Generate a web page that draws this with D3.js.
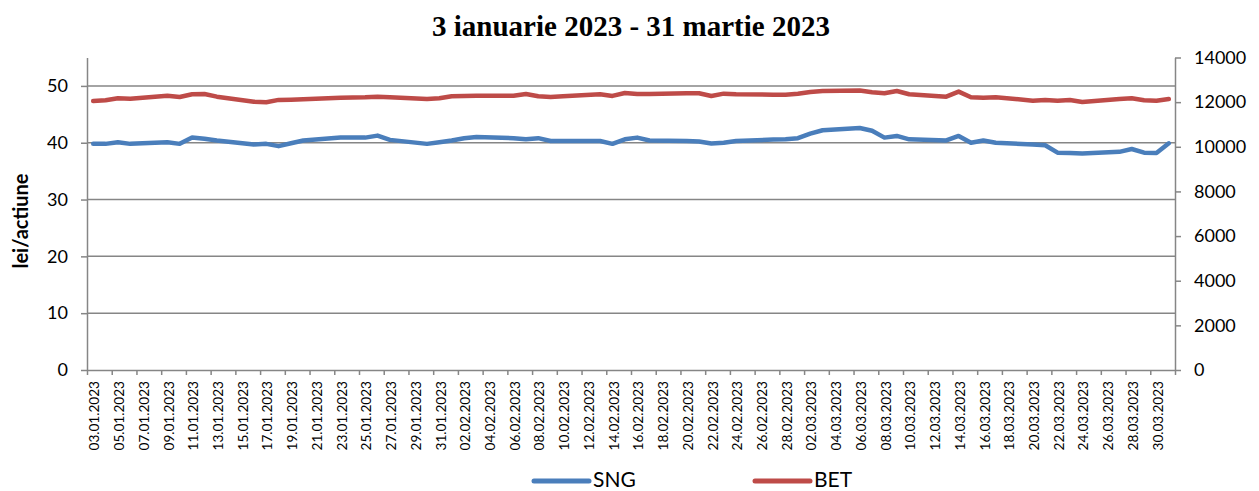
<!DOCTYPE html>
<html>
<head>
<meta charset="utf-8">
<script src="https://cdn.jsdelivr.net/npm/d3@7"></script>
<style>
  body { margin: 0; background: #fff; }
  .axis text { font-family: Lato, "Liberation Sans", sans-serif; fill: #000; }
  .axis path, .axis line { stroke: #868686; stroke-width: 1.5; }
</style>
</head>
<body>
<div id="chart"></div>
<script>
// trading days (BVB), Jan - Mar 2023
var dates = [
  "03.01.2023","04.01.2023","05.01.2023","06.01.2023","09.01.2023","10.01.2023","11.01.2023","12.01.2023","13.01.2023",
  "16.01.2023","17.01.2023","18.01.2023","19.01.2023","20.01.2023","23.01.2023","25.01.2023","26.01.2023","27.01.2023",
  "30.01.2023","31.01.2023","01.02.2023","02.02.2023","03.02.2023","06.02.2023","07.02.2023","08.02.2023","09.02.2023",
  "10.02.2023","13.02.2023","14.02.2023","15.02.2023","16.02.2023","17.02.2023","20.02.2023","21.02.2023","22.02.2023",
  "23.02.2023","24.02.2023","27.02.2023","28.02.2023","01.03.2023","02.03.2023","03.03.2023","06.03.2023","07.03.2023",
  "08.03.2023","09.03.2023","10.03.2023","13.03.2023","14.03.2023","15.03.2023","16.03.2023","17.03.2023","20.03.2023",
  "21.03.2023","22.03.2023","23.03.2023","24.03.2023","27.03.2023","28.03.2023","29.03.2023","30.03.2023","31.03.2023"
];
// SNG share price, lei/actiune (left axis)
var sng = [
  39.8, 39.8, 40.1, 39.8, 40.1, 39.8, 40.9, 40.7, 40.4,
  39.7, 39.8, 39.4, 39.9, 40.4, 40.9, 40.9, 41.25, 40.5,
  39.8, 40.1, 40.4, 40.8, 41.0, 40.8, 40.6, 40.8, 40.3,
  40.3, 40.3, 39.8, 40.6, 40.9, 40.4, 40.3, 40.2, 39.85,
  40.0, 40.3, 40.55, 40.6, 40.8, 41.6, 42.2, 42.6, 42.1,
  40.9, 41.2, 40.6, 40.4, 41.2, 40.0, 40.4, 40.0, 39.7,
  39.55, 38.25, 38.2, 38.1, 38.4, 38.9, 38.25, 38.2, 39.9
];
// BET index (right axis)
var bet = [
  12050, 12085, 12175, 12157, 12290, 12233, 12354, 12367, 12246,
  12022, 11995, 12100, 12110, 12130, 12200, 12220, 12246, 12220,
  12143, 12175, 12264, 12278, 12290, 12290, 12367, 12264, 12233,
  12264, 12354, 12278, 12412, 12367, 12367, 12398, 12398, 12278,
  12380, 12354, 12336, 12336, 12380, 12457, 12500, 12518, 12443,
  12398, 12500, 12354, 12246, 12472, 12220, 12200, 12220, 12067,
  12098, 12067, 12098, 12009, 12143, 12175, 12085, 12067, 12143
];
var leftTicks = [0, 10, 20, 30, 40, 50];
var rightTicks = [0, 2000, 4000, 6000, 8000, 10000, 12000, 14000];
var seriesNames = ["SNG", "BET"];
var seriesColors = ["#4A7EBB", "#BE4B48"];

var margin = { top: 57.5, right: 84, bottom: 121, left: 87 },
  width = 1259 - margin.left - margin.right,
  height = 491 - margin.top - margin.bottom;

var svg = d3.select("#chart")
  .append("svg")
  .attr("width", 1259)
  .attr("height", 491);

var g = svg.append("g")
  .attr("transform", "translate(" + margin.left + "," + margin.top + ")");

var parse = d3.utcParse("%d.%m.%Y");
var DAY = 864e5;
var first = parse(dates[0]), last = parse(dates[dates.length - 1]);

// one band per calendar day, points at band centre
var x = d3.scaleUtc()
  .domain([new Date(+first - DAY / 2), new Date(+last + DAY / 2)])
  .range([0, width]);
var yL = d3.scaleLinear().domain([0, 55]).range([height, 0]);
var yR = d3.scaleLinear().domain([0, 14000]).range([height, 0]);

var nDays = Math.round((last - first) / DAY) + 1;
var tickDates = d3.range(0, nDays + 1, 2).map(function (k) { return new Date(+first + (k - 0.5) * DAY); });
var labelDates = d3.range(0, nDays, 2).map(function (k) { return new Date(+first + k * DAY); });

// gridlines
g.selectAll(".grid")
  .data(leftTicks.filter(function (d) { return d > 0; }))
  .enter().append("line")
  .attr("x1", 0).attr("x2", width)
  .attr("y1", function (d) { return yL(d); })
  .attr("y2", function (d) { return yL(d); })
  .attr("stroke", "#868686")
  .attr("stroke-width", 1.5);

// x axis: tick marks between days, labels every 2nd day
g.append("g")
  .attr("class", "axis")
  .attr("transform", "translate(0," + height + ")")
  .call(d3.axisBottom(x).tickValues(tickDates).tickSize(5).tickSizeOuter(0).tickFormat(""));
var xl = g.append("g")
  .attr("class", "axis")
  .attr("transform", "translate(0," + height + ")")
  .call(d3.axisBottom(x).tickValues(labelDates).tickSize(0).tickFormat(d3.utcFormat("%d.%m.%Y")));
xl.select(".domain").remove();
xl.selectAll("text")
  .style("font-size", "13.6px")
  .attr("transform", "rotate(-90)")
  .attr("text-anchor", "end")
  .attr("x", -11)
  .attr("y", 0)
  .attr("dy", "0.42em");

// left axis
var al = g.append("g")
  .attr("class", "axis")
  .call(d3.axisLeft(yL).tickValues(leftTicks).tickSize(6).tickSizeOuter(0).tickPadding(13));
al.selectAll("text").style("font-size", "18px");

// right axis
var ar = g.append("g")
  .attr("class", "axis")
  .attr("transform", "translate(" + width + ",0)")
  .call(d3.axisRight(yR).tickValues(rightTicks).tickSize(6).tickSizeOuter(0).tickPadding(13).tickFormat(d3.format("d")));
ar.selectAll("text").style("font-size", "18px");

// lines
var lineL = d3.line()
  .x(function (d, i) { return x(parse(dates[i])); })
  .y(function (d) { return yL(d); });
var lineR = d3.line()
  .x(function (d, i) { return x(parse(dates[i])); })
  .y(function (d) { return yR(d); });

g.append("path")
  .datum(bet)
  .attr("d", lineR)
  .attr("fill", "none")
  .attr("stroke", seriesColors[1])
  .attr("stroke-width", 4.5)
  .attr("stroke-linejoin", "round")
  .attr("stroke-linecap", "round");
g.append("path")
  .datum(sng)
  .attr("d", lineL)
  .attr("fill", "none")
  .attr("stroke", seriesColors[0])
  .attr("stroke-width", 4.5)
  .attr("stroke-linejoin", "round")
  .attr("stroke-linecap", "round");

// title
svg.append("text")
  .attr("x", 631)
  .attr("y", 36)
  .attr("text-anchor", "middle")
  .style("font-family", "'Liberation Serif', 'Times New Roman', serif")
  .style("font-weight", "bold")
  .style("font-size", "29px")
  .text("3 ianuarie 2023 - 31 martie 2023");

// y title
svg.append("text")
  .attr("transform", "translate(21,221) rotate(-90)")
  .attr("text-anchor", "middle")
  .attr("dy", "0.35em")
  .style("font-family", "Lato, sans-serif")
  .style("font-weight", "bold")
  .style("font-size", "20px")
  .text("lei/actiune");

// legend
var legendX = [534, 755];
var legend = svg.selectAll(".legend")
  .data(seriesNames)
  .enter().append("g")
  .attr("class", "legend")
  .attr("transform", function (d, i) { return "translate(" + legendX[i] + ",479)"; });
legend.append("line")
  .attr("x1", 0).attr("x2", 55)
  .attr("y1", 2).attr("y2", 2)
  .attr("stroke", function (d, i) { return seriesColors[i]; })
  .attr("stroke-width", 5)
  .attr("stroke-linecap", "round");
legend.append("text")
  .attr("x", 59)
  .attr("dy", "0.36em")
  .style("font-family", "Lato, sans-serif")
  .style("font-size", "21px")
  .text(function (d) { return d; });
</script>
</body>
</html>
